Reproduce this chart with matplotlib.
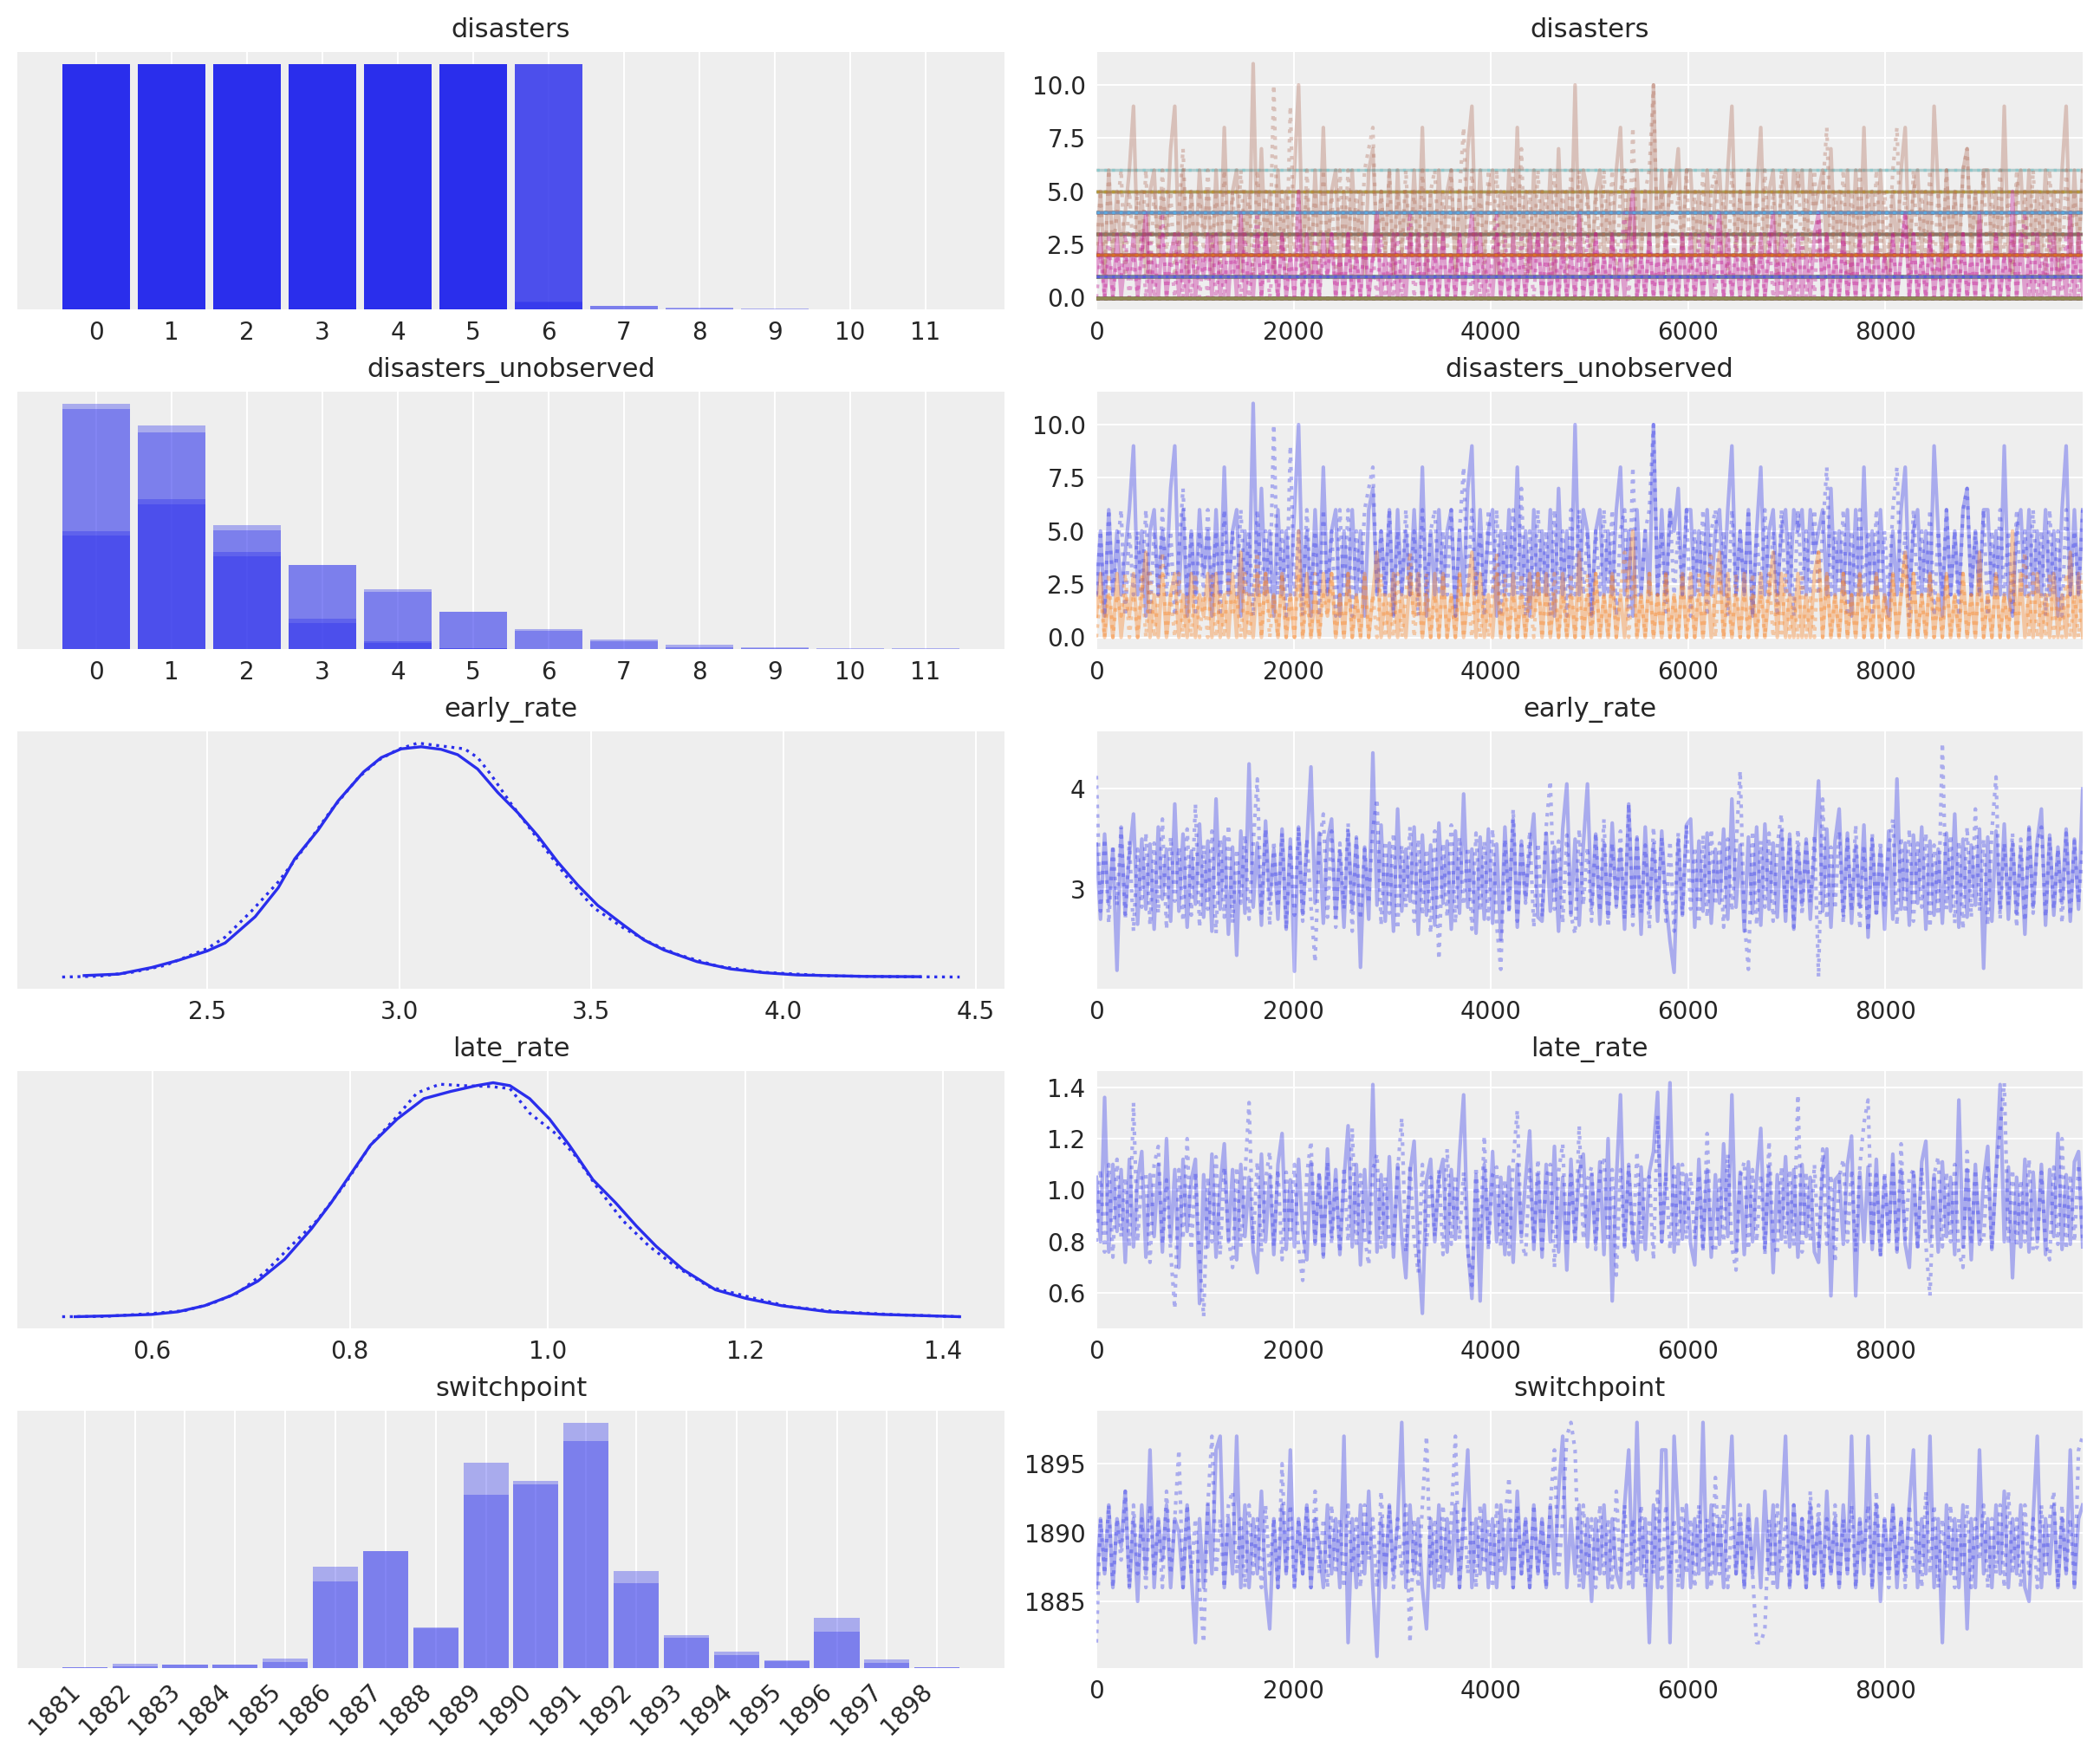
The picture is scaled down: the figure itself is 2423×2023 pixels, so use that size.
"""Two-chain trace plot for the coal-mining disasters switchpoint model.

Left column: per-variable marginals (histograms for discrete variables,
KDEs for the rates). Right column: draw-by-draw traces, chain 0 solid and
chain 1 dotted. Values were read off a reference figure; traces are coarse
hand-read sketches of the sampled paths.
"""

import matplotlib

matplotlib.use("Agg")
import matplotlib.pyplot as plt
import numpy as np
from matplotlib.ticker import MaxNLocator

COLORS = [
    "#2a2eec", "#fa7c17", "#328c06", "#c10c90", "#933708",
    "#65e5f3", "#e6e135", "#1ccd6a", "#bd8ad5", "#b16b57",
]
BLUE = COLORS[0]
BG = "#eeeeee"
INK = "#262626"

N_DRAWS = 10000
CHAIN_STYLES = ["-", ":"]

# yearly disaster counts 1851-1961, None marks the two imputed years
DISASTERS = [
    4, 5, 4, 0, 1, 4, 3, 4, 0, 6, 3, 3, 4, 0, 2, 6,
    3, 3, 5, 4, 5, 3, 1, 4, 4, 1, 5, 5, 3, 4, 2, 5,
    2, 2, 3, 4, 2, 1, 3, None, 2, 1, 1, 1, 1, 3, 0, 0,
    1, 0, 1, 1, 0, 0, 3, 1, 0, 3, 2, 2, 0, 1, 1, 1,
    0, 1, 0, 1, 0, 0, 0, 2, 1, 0, 0, 0, 1, 1, 0, 2,
    3, 3, 1, None, 2, 1, 1, 1, 1, 2, 4, 2, 0, 0, 1, 4,
    0, 0, 0, 1, 0, 0, 0, 0, 0, 1, 0, 0, 1, 0, 1,
]

# histogram densities of the imputed counts (bins 0..11)
COUNT_BINS = list(range(12))
UNOBS0_HIST_C0 = [0.188, 0.238, 0.197, 0.134, 0.095, 0.059, 0.032, 0.015, 0.0069, 0.0028, 0.0014, 0.0014]
UNOBS0_HIST_C1 = [0.181, 0.230, 0.189, 0.134, 0.091, 0.059, 0.029, 0.0124, 0.0028, 0.0014, 0.0, 0.0]
UNOBS1_HIST_C0 = [0.390, 0.356, 0.154, 0.048, 0.0124, 0.0014, 0, 0, 0, 0, 0, 0]
UNOBS1_HIST_C1 = [0.382, 0.345, 0.147, 0.041, 0.0096, 0.0014, 0, 0, 0, 0, 0, 0]

UNOBS0_TRACE_C0 = [
    2, 5, 1, 6, 2, 5, 2, 4, 6, 9, 2, 5, 1, 5, 6, 2, 5, 3, 7, 9, 2, 6, 1, 5,
    2, 6, 3, 5, 1, 6, 2, 8, 2, 5, 6, 1, 5, 2, 11, 2, 7, 2, 5, 1, 6, 2, 5, 2,
    6, 10, 2, 5, 1, 6, 2, 8, 2, 5, 6, 1, 5, 2, 6, 2, 5, 1, 6, 7, 2, 5, 2, 6,
    1, 6, 2, 5, 2, 6, 2, 8, 1, 5, 2, 6, 2, 5, 6, 1, 5, 2, 7, 9, 2, 6, 2, 5,
    6, 1, 5, 2, 6, 2, 8, 2, 5, 1, 6, 2, 5, 2, 6, 1, 7, 2, 5, 2, 10, 2, 6, 5,
    1, 5, 6, 2, 5, 2, 6, 8, 2, 5, 1, 6, 2, 5, 2, 10, 2, 6, 2, 6, 5, 7, 2, 6,
    6, 2, 5, 2, 6, 2, 5, 6, 2, 6, 9, 2, 5, 2, 6, 1, 5, 8, 2, 5, 6, 2, 5, 6,
    2, 6, 5, 6, 2, 6, 4, 5, 6, 2, 7, 2, 5, 2, 6, 1, 6, 2, 8, 2, 5, 2, 6, 2,
    1, 5, 2, 6, 8, 2, 5, 6, 2, 5, 2, 9, 5, 1, 6, 2, 5, 2, 6, 7, 2, 5, 2, 6,
    6, 2, 5, 2, 9, 2, 1, 5, 6, 2, 6, 2, 5, 2, 6, 2, 5, 1, 6, 9, 2, 6, 2, 6,
]
UNOBS0_TRACE_C1 = [
    2, 5, 1, 6, 2, 4, 6, 1, 5, 2, 5, 2, 6, 1, 5, 2, 6, 2, 5, 1, 4, 7, 2, 5,
    1, 5, 2, 6, 2, 5, 1, 6, 2, 5, 2, 6, 2, 5, 1, 6, 2, 5, 2, 10, 2, 5, 1, 9,
    2, 5, 1, 6, 2, 5, 1, 6, 2, 5, 1, 6, 2, 6, 1, 5, 2, 6, 7, 8, 2, 5, 2, 6,
    1, 5, 2, 6, 2, 5, 1, 6, 2, 5, 6, 2, 5, 2, 6, 1, 5, 8, 2, 6, 2, 5, 1, 6,
    2, 6, 1, 5, 2, 6, 2, 7, 1, 5, 2, 6, 2, 5, 1, 6, 2, 5, 1, 6, 2, 6, 2, 5,
    1, 5, 2, 6, 2, 6, 1, 5, 6, 1, 8, 2, 2, 5, 6, 10, 2, 5, 1, 6, 2, 5, 2, 6,
    1, 5, 2, 6, 1, 5, 6, 2, 5, 1, 6, 2, 5, 2, 6, 1, 5, 2, 6, 2, 5, 1, 6, 2,
    5, 1, 6, 2, 5, 2, 6, 2, 5, 8, 2, 5, 2, 6, 1, 5, 2, 6, 2, 5, 1, 6, 2, 5,
    2, 6, 8, 2, 5, 1, 6, 2, 5, 2, 6, 1, 5, 2, 6, 2, 5, 1, 6, 7, 2, 5, 2, 6,
    1, 5, 2, 6, 2, 5, 1, 6, 2, 5, 2, 6, 2, 5, 1, 6, 2, 5, 1, 6, 2, 5, 2, 6,
]
UNOBS1_TRACE_C0 = [
    1, 3, 0, 2, 0, 3, 0, 2, 1, 3, 0, 2, 4, 0, 2, 0, 3, 0, 2, 3, 0, 2, 0, 3,
    0, 2, 1, 3, 0, 3, 0, 2, 0, 3, 0, 4, 0, 2, 0, 3, 0, 3, 1, 2, 0, 3, 0, 2,
    0, 5, 0, 3, 0, 2, 0, 3, 1, 3, 0, 2, 0, 3, 0, 2, 0, 3, 0, 2, 4, 0, 2, 0,
    3, 0, 2, 0, 3, 1, 3, 0, 2, 0, 3, 0, 3, 0, 2, 0, 3, 0, 2, 4, 0, 3, 0, 2,
    0, 3, 0, 2, 0, 3, 0, 2, 0, 3, 1, 3, 0, 3, 0, 2, 0, 3, 0, 2, 0, 4, 0, 2,
    0, 3, 0, 2, 0, 3, 0, 2, 0, 3, 5, 0, 2, 0, 3, 0, 2, 0, 3, 0, 2, 0, 3, 0,
    3, 0, 2, 0, 3, 0, 2, 4, 0, 3, 0, 2, 0, 3, 0, 2, 0, 3, 0, 2, 4, 0, 3, 0,
    2, 0, 3, 0, 2, 0, 3, 4, 0, 3, 0, 2, 0, 3, 0, 2, 0, 3, 0, 2, 0, 3, 0, 2,
    0, 3, 0, 2, 4, 0, 3, 0, 2, 0, 3, 0, 2, 0, 3, 0, 2, 0, 3, 0, 2, 0, 4, 0,
    2, 0, 3, 0, 2, 0, 5, 0, 3, 0, 2, 0, 3, 0, 2, 0, 3, 0, 2, 0, 4, 0, 3, 0,
]
UNOBS1_TRACE_C1 = [
    0, 2, 0, 3, 0, 2, 1, 3, 0, 2, 0, 3, 0, 3, 0, 2, 4, 0, 2, 0, 3, 0, 2, 0,
    3, 0, 2, 0, 3, 0, 2, 0, 3, 1, 2, 0, 3, 0, 2, 4, 0, 3, 0, 2, 0, 3, 0, 2,
    0, 3, 0, 2, 0, 3, 0, 2, 1, 3, 0, 2, 0, 3, 0, 2, 0, 3, 0, 2, 0, 3, 0, 2,
    0, 3, 0, 2, 4, 0, 2, 0, 3, 0, 2, 0, 3, 0, 2, 0, 3, 0, 2, 0, 3, 0, 2, 0,
    2, 4, 0, 3, 0, 2, 0, 3, 0, 2, 0, 3, 0, 2, 0, 3, 0, 2, 0, 3, 0, 2, 0, 3,
    0, 3, 0, 2, 0, 3, 0, 2, 4, 0, 3, 0, 2, 0, 3, 0, 2, 0, 3, 0, 2, 0, 3, 0,
    2, 0, 3, 0, 2, 4, 0, 3, 0, 2, 0, 3, 0, 2, 0, 3, 0, 2, 0, 3, 0, 2, 0, 3,
    0, 2, 0, 3, 0, 2, 0, 4, 0, 3, 0, 2, 0, 3, 0, 2, 0, 3, 0, 2, 0, 3, 0, 2,
    0, 3, 0, 2, 4, 0, 3, 0, 2, 0, 3, 0, 2, 0, 3, 0, 2, 0, 3, 0, 2, 0, 3, 0,
    2, 0, 3, 0, 2, 0, 3, 0, 2, 4, 0, 3, 0, 2, 0, 3, 0, 2, 0, 3, 0, 2, 0, 3,
]

# KDE curves of the rates, (x, density) per chain
EARLY_KDE_X_C0 = [2.180, 2.270, 2.356, 2.426, 2.500, 2.547, 2.625, 2.685, 2.728, 2.789, 2.841,
                  2.907, 2.953, 3.005, 3.057, 3.109, 3.152, 3.204, 3.256, 3.308, 3.360, 3.412,
                  3.464, 3.516, 3.585, 3.637, 3.689, 3.775, 3.862, 3.948, 4.035, 4.208, 4.355]
EARLY_KDE_Y_C0 = [0.009, 0.018, 0.059, 0.104, 0.161, 0.211, 0.373, 0.552, 0.731, 0.910, 1.090,
                  1.269, 1.358, 1.412, 1.425, 1.409, 1.376, 1.287, 1.143, 1.018, 0.875, 0.713,
                  0.570, 0.444, 0.319, 0.229, 0.167, 0.095, 0.050, 0.027, 0.013, 0.004, 0.002]
EARLY_KDE_X_C1 = [2.123, 2.218, 2.304, 2.391, 2.500, 2.547, 2.616, 2.685, 2.754, 2.824, 2.893,
                  2.945, 2.997, 3.048, 3.109, 3.170, 3.204, 3.239, 3.291, 3.343, 3.394, 3.446,
                  3.507, 3.585, 3.654, 3.723, 3.827, 3.948, 4.121, 4.294, 4.458]
EARLY_KDE_Y_C1 = [0.000, 0.005, 0.029, 0.072, 0.176, 0.247, 0.409, 0.588, 0.803, 1.036, 1.233,
                  1.341, 1.409, 1.448, 1.430, 1.412, 1.358, 1.251, 1.072, 0.910, 0.749, 0.588,
                  0.427, 0.301, 0.211, 0.140, 0.068, 0.029, 0.007, 0.002, 0.000]

LATE_KDE_X_C0 = [0.522, 0.559, 0.600, 0.626, 0.653, 0.680, 0.707, 0.734, 0.761, 0.781, 0.801,
                 0.821, 0.848, 0.875, 0.902, 0.928, 0.945, 0.962, 0.982, 1.002, 1.022, 1.046,
                 1.069, 1.090, 1.110, 1.137, 1.170, 1.201, 1.237, 1.284, 1.338, 1.417]
LATE_KDE_Y_C0 = [0.00, 0.013, 0.034, 0.073, 0.163, 0.313, 0.528, 0.850, 1.300, 1.687, 2.116,
                 2.545, 2.931, 3.232, 3.339, 3.425, 3.468, 3.425, 3.232, 2.931, 2.545, 2.030,
                 1.687, 1.343, 1.043, 0.700, 0.399, 0.270, 0.163, 0.073, 0.034, 0.00]
LATE_KDE_X_C1 = [0.509, 0.552, 0.600, 0.633, 0.660, 0.687, 0.714, 0.740, 0.767, 0.794, 0.821,
                 0.848, 0.868, 0.891, 0.915, 0.942, 0.962, 0.982, 1.008, 1.029, 1.049, 1.076,
                 1.103, 1.130, 1.164, 1.204, 1.244, 1.291, 1.351, 1.417]
LATE_KDE_Y_C1 = [0.00, 0.004, 0.047, 0.090, 0.193, 0.356, 0.657, 1.043, 1.429, 1.944, 2.545,
                 2.974, 3.318, 3.446, 3.425, 3.412, 3.382, 3.017, 2.717, 2.373, 1.944, 1.429,
                 1.043, 0.742, 0.442, 0.292, 0.150, 0.077, 0.030, 0.00]

EARLY_TRACE_C0 = [
    3.45, 2.70, 3.55, 2.85, 3.40, 2.19, 3.60, 2.75, 3.35, 3.75, 2.65, 3.50,
    2.80, 3.45, 2.60, 3.62, 2.90, 3.40, 2.68, 3.85, 2.78, 3.55, 2.62, 3.38,
    2.85, 3.65, 2.72, 3.48, 2.58, 3.90, 2.80, 3.52, 2.55, 3.42, 2.34, 3.58,
    2.76, 4.25, 2.82, 3.46, 2.64, 3.68, 2.90, 3.40, 2.70, 3.60, 2.60, 3.50,
    2.18, 3.62, 2.75, 3.44, 4.22, 2.86, 3.56, 2.66, 3.48, 3.70, 2.72, 3.38,
    2.62, 3.58, 2.80, 3.50, 2.22, 3.42, 2.70, 4.36, 2.84, 3.64, 2.68, 3.46,
    2.58, 3.80, 2.78, 3.40, 2.88, 3.62, 2.55, 3.54, 2.74, 3.44, 2.64, 3.66,
    2.86, 3.48, 2.60, 3.58, 2.76, 3.95, 2.82, 3.40, 2.56, 3.52, 2.70, 3.60,
    2.66, 3.45, 2.50, 3.62, 2.80, 3.70, 2.62, 3.48, 2.90, 3.38, 3.75, 2.72,
    2.68, 3.56, 2.78, 3.42, 2.58, 3.60, 4.05, 2.74, 3.50, 2.64, 3.44, 4.05,
    2.82, 3.55, 2.65, 3.46, 2.72, 3.66, 2.84, 3.40, 2.60, 3.85, 2.76, 3.52,
    2.55, 3.62, 2.80, 3.45, 2.68, 3.58, 2.88, 2.48, 2.17, 3.50, 2.74, 3.64,
    3.70, 2.62, 3.48, 2.78, 3.56, 2.66, 3.40, 2.86, 3.60, 2.70, 3.90, 2.82,
    3.44, 2.58, 3.52, 2.76, 3.62, 2.64, 3.65, 2.80, 3.46, 2.72, 3.58, 2.68,
    3.55, 2.60, 3.42, 2.84, 3.50, 2.70, 3.40, 4.08, 2.78, 3.60, 2.62, 3.48,
    3.80, 2.74, 3.56, 2.66, 3.44, 2.82, 3.64, 2.52, 3.50, 2.76, 3.40, 2.60,
    3.58, 2.70, 4.10, 2.80, 3.46, 2.64, 3.54, 2.86, 3.62, 2.60, 3.48, 2.74,
    3.40, 2.66, 3.56, 2.78, 3.75, 2.62, 3.50, 2.72, 3.44, 2.84, 3.60, 2.21,
    3.52, 2.68, 3.58, 2.80, 3.65, 2.70, 3.46, 2.76, 3.40, 2.55, 3.62, 2.82,
    3.48, 3.80, 2.64, 3.54, 2.74, 3.42, 2.86, 3.60, 2.68, 3.50, 2.80, 4.00,
]
EARLY_TRACE_C1 = [
    4.13, 2.78, 3.50, 2.66, 3.44, 2.84, 3.62, 2.70, 3.48, 2.58, 3.40, 2.82,
    3.56, 2.64, 3.46, 2.76, 3.70, 2.60, 3.52, 2.88, 3.42, 2.68, 3.60, 2.74,
    3.85, 2.62, 3.44, 2.80, 3.58, 2.56, 3.50, 2.72, 3.64, 2.66, 3.40, 2.86,
    3.54, 2.70, 3.46, 4.10, 2.76, 3.60, 2.64, 3.48, 2.82, 3.56, 2.60, 3.42,
    2.74, 3.62, 2.68, 3.50, 2.84, 2.27, 3.44, 3.75, 2.72, 3.58, 2.62, 3.46,
    2.80, 3.66, 2.58, 3.52, 2.70, 3.40, 2.86, 3.60, 3.90, 2.64, 3.48, 2.76,
    3.56, 2.60, 3.44, 2.82, 3.62, 2.68, 3.50, 2.74, 3.40, 2.56, 3.58, 2.30,
    3.46, 2.72, 3.64, 2.66, 3.52, 2.84, 3.42, 2.60, 3.56, 2.78, 3.48, 2.70,
    3.60, 2.64, 2.20, 3.50, 2.76, 3.80, 2.68, 3.44, 2.86, 3.58, 2.62, 3.46,
    2.72, 3.62, 4.08, 2.80, 3.48, 2.66, 3.54, 2.74, 2.55, 3.60, 2.84, 3.42,
    2.68, 3.56, 2.78, 3.70, 2.62, 3.46, 2.82, 3.58, 2.70, 3.85, 2.64, 3.50,
    2.76, 3.44, 2.60, 3.62, 2.86, 3.52, 2.68, 3.48, 2.58, 3.56, 2.74, 3.64,
    2.80, 3.42, 2.66, 3.54, 2.72, 3.60, 2.84, 3.46, 2.62, 3.50, 2.78, 3.40,
    4.18, 2.70, 2.20, 3.58, 2.64, 3.48, 2.82, 3.56, 2.68, 3.44, 3.75, 2.76,
    3.52, 2.62, 3.60, 2.74, 3.46, 2.86, 3.54, 2.123, 3.90, 2.70, 3.42, 2.80,
    3.58, 2.66, 3.50, 2.78, 3.64, 2.60, 3.44, 2.58, 3.56, 2.72, 3.48, 2.84,
    3.40, 3.70, 2.64, 3.52, 2.76, 3.60, 2.68, 3.46, 2.82, 3.56, 2.62, 3.44,
    2.74, 4.458, 2.80, 3.54, 2.66, 3.48, 2.60, 3.62, 2.72, 3.80, 2.78, 3.50,
    2.64, 3.58, 4.12, 2.70, 3.46, 2.84, 3.56, 2.62, 3.50, 2.68, 3.60, 2.76,
    3.44, 3.62, 2.72, 3.52, 2.80, 3.40, 2.66, 3.56, 2.74, 3.48, 2.86, 3.42,
]
LATE_TRACE_C0 = [
    1.05, 0.80, 1.36, 0.76, 1.10, 0.84, 1.08, 0.72, 1.12, 0.78, 1.04, 1.15,
    0.74, 1.06, 0.82, 1.10, 0.76, 1.20, 0.80, 1.08, 0.70, 1.12, 0.84, 1.04,
    1.12, 0.56, 1.06, 0.78, 1.14, 0.74, 1.02, 1.18, 0.80, 1.08, 0.73, 1.10,
    0.82, 1.05, 0.76, 0.68, 1.14, 0.80, 1.06, 0.75, 1.10, 1.22, 0.77, 1.04,
    0.78, 1.12, 0.84, 0.73, 1.11, 0.79, 1.06, 0.74, 1.16, 0.82, 1.08, 0.75,
    1.04, 1.25, 0.78, 1.10, 0.71, 1.08, 0.80, 1.41, 0.76, 1.06, 0.78, 1.13,
    0.74, 1.10, 0.82, 0.66, 1.07, 1.19, 0.77, 0.522, 1.04, 1.12, 0.80, 1.05,
    1.12, 0.76, 1.08, 0.81, 1.14, 1.37, 0.78, 0.58, 1.06, 0.57, 1.10, 0.79,
    1.15, 0.80, 1.05, 0.75, 1.09, 0.72, 1.10, 0.82, 1.04, 1.23, 0.77, 1.06,
    0.74, 1.10, 0.80, 1.17, 0.76, 1.05, 0.69, 1.12, 0.81, 1.07, 1.14, 0.78,
    1.06, 0.79, 1.11, 0.75, 1.20, 0.57, 1.04, 1.37, 0.78, 1.09, 0.82, 0.73,
    1.09, 0.77, 1.07, 1.15, 1.38, 0.80, 1.05, 1.417, 0.76, 1.10, 0.81, 1.06,
    0.79, 0.71, 1.12, 0.78, 1.08, 0.74, 1.06, 0.79, 1.18, 0.82, 1.37, 0.76,
    1.07, 0.75, 1.11, 0.80, 1.05, 1.24, 0.77, 1.09, 0.68, 1.06, 0.81, 1.13,
    0.78, 1.08, 0.74, 1.10, 0.82, 1.05, 0.76, 0.72, 1.09, 1.16, 0.59, 1.04,
    1.06, 0.79, 1.10, 1.21, 0.59, 1.07, 0.80, 1.09, 0.77, 1.12, 0.75, 1.05,
    0.81, 1.14, 0.76, 1.08, 0.79, 0.70, 1.07, 0.78, 1.11, 1.19, 0.80, 1.06,
    0.76, 1.11, 0.82, 1.05, 0.75, 1.35, 0.78, 1.08, 0.73, 1.10, 0.79, 1.04,
    1.17, 0.77, 1.06, 1.41, 0.80, 1.09, 0.66, 1.05, 0.78, 1.12, 0.76, 1.07,
    0.80, 1.10, 0.75, 1.08, 0.82, 1.22, 0.77, 1.06, 0.79, 1.11, 1.15, 0.78,
]
LATE_TRACE_C1 = [
    0.80, 1.08, 0.76, 1.10, 0.74, 1.12, 0.82, 1.05, 0.78, 1.34, 0.80, 1.06,
    1.06, 0.72, 1.10, 1.17, 0.79, 1.04, 0.76, 0.54, 1.08, 0.81, 1.20, 0.77,
    1.07, 0.74, 0.509, 1.05, 0.80, 1.13, 0.75, 1.09, 0.82, 0.70, 1.09, 0.78,
    1.05, 1.34, 0.79, 1.11, 0.76, 1.04, 1.15, 0.78, 1.08, 0.73, 1.07, 0.81,
    1.10, 0.77, 0.65, 1.06, 1.19, 0.80, 1.07, 0.75, 1.11, 0.79, 1.04, 0.76,
    1.09, 0.80, 1.24, 0.78, 1.06, 0.82, 0.71, 1.08, 1.14, 0.77, 1.05, 0.80,
    0.79, 1.07, 1.28, 0.76, 1.10, 0.81, 0.68, 1.10, 0.78, 1.05, 0.82, 1.08,
    0.75, 1.16, 0.79, 1.06, 0.81, 1.07, 0.76, 0.63, 1.09, 0.80, 1.21, 0.77,
    1.06, 1.09, 0.78, 1.04, 0.75, 1.11, 1.31, 0.80, 0.74, 1.08, 0.79, 1.12,
    0.77, 1.05, 1.10, 0.70, 1.07, 1.18, 0.78, 1.06, 0.79, 1.25, 0.81, 1.04,
    1.09, 0.77, 1.06, 1.13, 0.80, 1.08, 0.67, 1.08, 0.78, 1.10, 0.76, 1.15,
    0.79, 1.06, 1.05, 0.73, 1.29, 0.80, 1.07, 0.77, 1.09, 0.78, 1.10, 0.81,
    1.07, 0.81, 1.06, 0.76, 1.22, 0.79, 0.76, 1.04, 0.80, 1.14, 0.78, 0.69,
    1.05, 1.11, 0.77, 1.08, 0.80, 1.06, 0.75, 1.19, 0.81, 0.75, 1.09, 0.79,
    1.08, 0.78, 1.37, 0.76, 1.07, 0.80, 1.10, 0.77, 1.16, 0.79, 1.06, 0.72,
    1.05, 1.12, 0.80, 1.08, 0.76, 1.09, 1.26, 1.35, 0.78, 1.06, 0.74, 1.07,
    0.80, 1.10, 0.77, 1.18, 0.81, 1.05, 1.08, 0.77, 1.09, 0.79, 0.59, 1.06,
    1.13, 0.78, 1.07, 0.80, 1.10, 0.76, 0.70, 1.15, 0.79, 1.08, 0.81, 0.80,
    1.10, 0.77, 1.06, 1.24, 1.417, 0.79, 1.08, 0.78, 1.04, 0.80, 1.12, 0.76,
    0.78, 1.07, 0.80, 0.73, 1.09, 0.79, 1.20, 0.77, 1.06, 0.80, 1.10, 0.81,
]

SWITCH_YEARS = list(range(1881, 1899))
SWITCH_HIST_C0 = [0.0008, 0.0038, 0.0030, 0.0030, 0.0089, 0.094, 0.109, 0.038, 0.191,
                  0.174, 0.228, 0.090, 0.031, 0.015, 0.0070, 0.047, 0.0078, 0.0008]
SWITCH_HIST_C1 = [0.0008, 0.0016, 0.0030, 0.0030, 0.0056, 0.081, 0.109, 0.037, 0.161,
                  0.171, 0.211, 0.079, 0.028, 0.012, 0.0062, 0.034, 0.0046, 0.0008]
SWITCH_TRACE_C0 = [
    1886, 1891, 1887, 1892, 1886, 1891, 1889, 1893, 1886, 1891, 1885, 1892,
    1887, 1896, 1886, 1891, 1888, 1892, 1886, 1891, 1890, 1886, 1892, 1887,
    1882, 1891, 1886, 1892, 1887, 1896, 1897, 1886, 1891, 1887, 1897, 1886,
    1892, 1886, 1891, 1887, 1893, 1886, 1883, 1891, 1886, 1892, 1887, 1896,
    1886, 1891, 1887, 1892, 1886, 1891, 1889, 1886, 1892, 1887, 1891, 1886,
    1897, 1882, 1891, 1886, 1892, 1887, 1893, 1886, 1881, 1891, 1886, 1892,
    1887, 1891, 1898, 1886, 1892, 1887, 1891, 1886, 1883, 1891, 1886, 1892,
    1886, 1891, 1887, 1892, 1886, 1891, 1896, 1886, 1891, 1887, 1892, 1886,
    1891, 1886, 1892, 1887, 1891, 1886, 1893, 1887, 1891, 1886, 1892, 1887,
    1891, 1886, 1892, 1887, 1893, 1897, 1886, 1891, 1887, 1892, 1886, 1891,
    1885, 1891, 1887, 1892, 1886, 1891, 1887, 1886, 1892, 1896, 1886, 1898,
    1887, 1891, 1882, 1892, 1886, 1896, 1896, 1882, 1897, 1891, 1886, 1892,
    1886, 1891, 1887, 1898, 1886, 1892, 1887, 1891, 1886, 1892, 1897, 1887,
    1891, 1886, 1892, 1887, 1891, 1886, 1893, 1887, 1892, 1886, 1891, 1897,
    1886, 1892, 1887, 1891, 1886, 1892, 1887, 1891, 1886, 1893, 1887, 1891,
    1886, 1892, 1887, 1897, 1886, 1891, 1887, 1897, 1886, 1892, 1885, 1891,
    1887, 1892, 1886, 1891, 1887, 1892, 1896, 1886, 1891, 1887, 1897, 1886,
    1891, 1882, 1892, 1887, 1891, 1886, 1892, 1883, 1891, 1886, 1896, 1887,
    1891, 1886, 1892, 1887, 1893, 1886, 1891, 1887, 1892, 1886, 1885, 1891,
    1897, 1886, 1891, 1887, 1892, 1886, 1891, 1887, 1896, 1886, 1891, 1892,
]
SWITCH_TRACE_C1 = [
    1882, 1891, 1887, 1892, 1886, 1891, 1888, 1893, 1886, 1892, 1887, 1891,
    1886, 1892, 1887, 1891, 1886, 1893, 1887, 1891, 1896, 1886, 1892, 1887,
    1891, 1886, 1882, 1892, 1897, 1887, 1891, 1886, 1892, 1893, 1887, 1891,
    1886, 1892, 1887, 1891, 1886, 1892, 1887, 1891, 1886, 1895, 1887, 1892,
    1886, 1891, 1887, 1892, 1886, 1893, 1887, 1891, 1886, 1892, 1887, 1891,
    1886, 1892, 1887, 1891, 1886, 1892, 1888, 1891, 1886, 1893, 1887, 1892,
    1886, 1891, 1887, 1892, 1882, 1891, 1886, 1892, 1897, 1887, 1891, 1886,
    1892, 1887, 1891, 1897, 1886, 1892, 1887, 1891, 1886, 1892, 1887, 1891,
    1886, 1892, 1887, 1891, 1894, 1886, 1892, 1887, 1891, 1886, 1892, 1887,
    1891, 1886, 1892, 1896, 1887, 1891, 1897, 1898, 1896, 1886, 1892, 1887,
    1891, 1886, 1892, 1887, 1891, 1886, 1893, 1887, 1892, 1886, 1891, 1887,
    1892, 1886, 1891, 1887, 1893, 1886, 1892, 1887, 1891, 1886, 1892, 1887,
    1891, 1886, 1892, 1887, 1891, 1886, 1894, 1887, 1892, 1886, 1891, 1887,
    1892, 1886, 1891, 1887, 1882, 1882, 1883, 1891, 1886, 1892, 1887, 1891,
    1886, 1892, 1887, 1891, 1886, 1893, 1887, 1892, 1886, 1891, 1887, 1892,
    1886, 1891, 1887, 1892, 1886, 1891, 1888, 1892, 1886, 1893, 1887, 1891,
    1886, 1892, 1887, 1891, 1886, 1892, 1887, 1891, 1886, 1893, 1887, 1892,
    1886, 1891, 1887, 1892, 1886, 1891, 1887, 1892, 1886, 1891, 1888, 1892,
    1886, 1891, 1887, 1892, 1886, 1893, 1887, 1891, 1886, 1892, 1887, 1891,
    1886, 1892, 1887, 1891, 1893, 1886, 1892, 1887, 1891, 1886, 1896, 1897,
]

# layout, in pixels of the 2423 x 2023 output
FIG_W, FIG_H, DPI = 2423, 2023, 200
COL_X = [(20, 1139), (1265, 1138)]
ROW_TOP, ROW_PITCH, AX_H = 60, 392, 297
TICK_SIZE, TITLE_SIZE = 10, 11
LW, TRACE_LW = 1.2, 1.5
TRACE_ALPHA, BAR_ALPHA, BAR_WIDTH = 0.35, 0.35, 0.9
NICE_STEPS = [1, 2, 2.5, 5, 10]


def _axes(fig, row, col):
    x0, width = COL_X[col]
    top = ROW_TOP + row * ROW_PITCH
    rect = [x0 / FIG_W, 1 - (top + AX_H) / FIG_H, width / FIG_W, AX_H / FIG_H]
    ax = fig.add_axes(rect)
    ax.set_facecolor(BG)
    for spine in ax.spines.values():
        spine.set_visible(False)
    ax.grid(True, color="white", linewidth=0.7)
    ax.set_axisbelow(True)
    ax.tick_params(length=0, pad=4.5, labelsize=TICK_SIZE, labelcolor=INK)
    return ax


def _draws(values):
    return np.linspace(0, N_DRAWS - 1, len(values))


def _finish_left(ax, title):
    ax.set_yticks([])
    ax.set_title(title, fontsize=TITLE_SIZE, color=INK)


def _finish_right(ax, title):
    ax.set_xlim(0, N_DRAWS - 1)
    ax.xaxis.set_major_locator(MaxNLocator(nbins=7, steps=NICE_STEPS))
    ax.yaxis.set_major_locator(MaxNLocator(nbins=5, steps=NICE_STEPS))
    ax.set_title(title, fontsize=TITLE_SIZE, color=INK)


def _bars(ax, bins, heights):
    ax.bar(bins, heights, width=BAR_WIDTH, color=BLUE, alpha=BAR_ALPHA, linewidth=0)


def _trace(ax, values, color, chain):
    ax.plot(_draws(values), values, color=color, ls=CHAIN_STYLES[chain],
            lw=TRACE_LW, alpha=TRACE_ALPHA)


def main():
    fig = plt.figure(figsize=(FIG_W / DPI, FIG_H / DPI), dpi=DPI)
    missing = [i for i, v in enumerate(DISASTERS) if v is None]
    unobs_hist = [(UNOBS0_HIST_C0, UNOBS0_HIST_C1), (UNOBS1_HIST_C0, UNOBS1_HIST_C1)]
    unobs_trace = [(UNOBS0_TRACE_C0, UNOBS0_TRACE_C1), (UNOBS1_TRACE_C0, UNOBS1_TRACE_C1)]

    # disasters: every observed year is a constant draw (density 1 at its count)
    ax = _axes(fig, 0, 0)
    for i, value in enumerate(DISASTERS):
        for chain in range(2):
            if value is None:
                _bars(ax, COUNT_BINS, unobs_hist[missing.index(i)][chain])
            else:
                _bars(ax, [value], [1.0])
    ax.set_xticks(COUNT_BINS)
    _finish_left(ax, "disasters")

    ax = _axes(fig, 0, 1)
    for i, value in enumerate(DISASTERS):
        color = COLORS[i % len(COLORS)]
        for chain in range(2):
            if value is None:
                _trace(ax, unobs_trace[missing.index(i)][chain], color, chain)
            else:
                ax.hlines(value, 0, N_DRAWS - 1, colors=color, linestyles=CHAIN_STYLES[chain],
                          lw=LW, alpha=TRACE_ALPHA)
    _finish_right(ax, "disasters")

    # disasters_unobserved
    ax = _axes(fig, 1, 0)
    for pair in unobs_hist:
        for heights in pair:
            _bars(ax, COUNT_BINS, heights)
    ax.set_xticks(COUNT_BINS)
    _finish_left(ax, "disasters_unobserved")

    ax = _axes(fig, 1, 1)
    for k, pair in enumerate(unobs_trace):
        for chain, values in enumerate(pair):
            _trace(ax, values, COLORS[k], chain)
    _finish_right(ax, "disasters_unobserved")

    # the two rates
    rates = [
        ("early_rate", (EARLY_KDE_X_C0, EARLY_KDE_Y_C0), (EARLY_KDE_X_C1, EARLY_KDE_Y_C1),
         (EARLY_TRACE_C0, EARLY_TRACE_C1)),
        ("late_rate", (LATE_KDE_X_C0, LATE_KDE_Y_C0), (LATE_KDE_X_C1, LATE_KDE_Y_C1),
         (LATE_TRACE_C0, LATE_TRACE_C1)),
    ]
    for row, (name, kde0, kde1, traces) in enumerate(rates, start=2):
        ax = _axes(fig, row, 0)
        for chain, (xs, ys) in enumerate([kde0, kde1]):
            ax.plot(xs, ys, color=BLUE, ls=CHAIN_STYLES[chain], lw=LW)
        ax.xaxis.set_major_locator(MaxNLocator(nbins=7, steps=NICE_STEPS))
        _finish_left(ax, name)

        ax = _axes(fig, row, 1)
        for chain, values in enumerate(traces):
            _trace(ax, values, BLUE, chain)
        _finish_right(ax, name)

    # switchpoint
    ax = _axes(fig, 4, 0)
    _bars(ax, SWITCH_YEARS, SWITCH_HIST_C0)
    _bars(ax, SWITCH_YEARS, SWITCH_HIST_C1)
    ax.set_xticks(SWITCH_YEARS)
    ax.set_xticklabels([str(y) for y in SWITCH_YEARS], rotation=45, ha="right")
    _finish_left(ax, "switchpoint")

    ax = _axes(fig, 4, 1)
    _trace(ax, SWITCH_TRACE_C0, BLUE, 0)
    _trace(ax, SWITCH_TRACE_C1, BLUE, 1)
    _finish_right(ax, "switchpoint")

    fig.savefig("out.png", dpi=DPI)
    plt.close(fig)


if __name__ == "__main__":
    main()
